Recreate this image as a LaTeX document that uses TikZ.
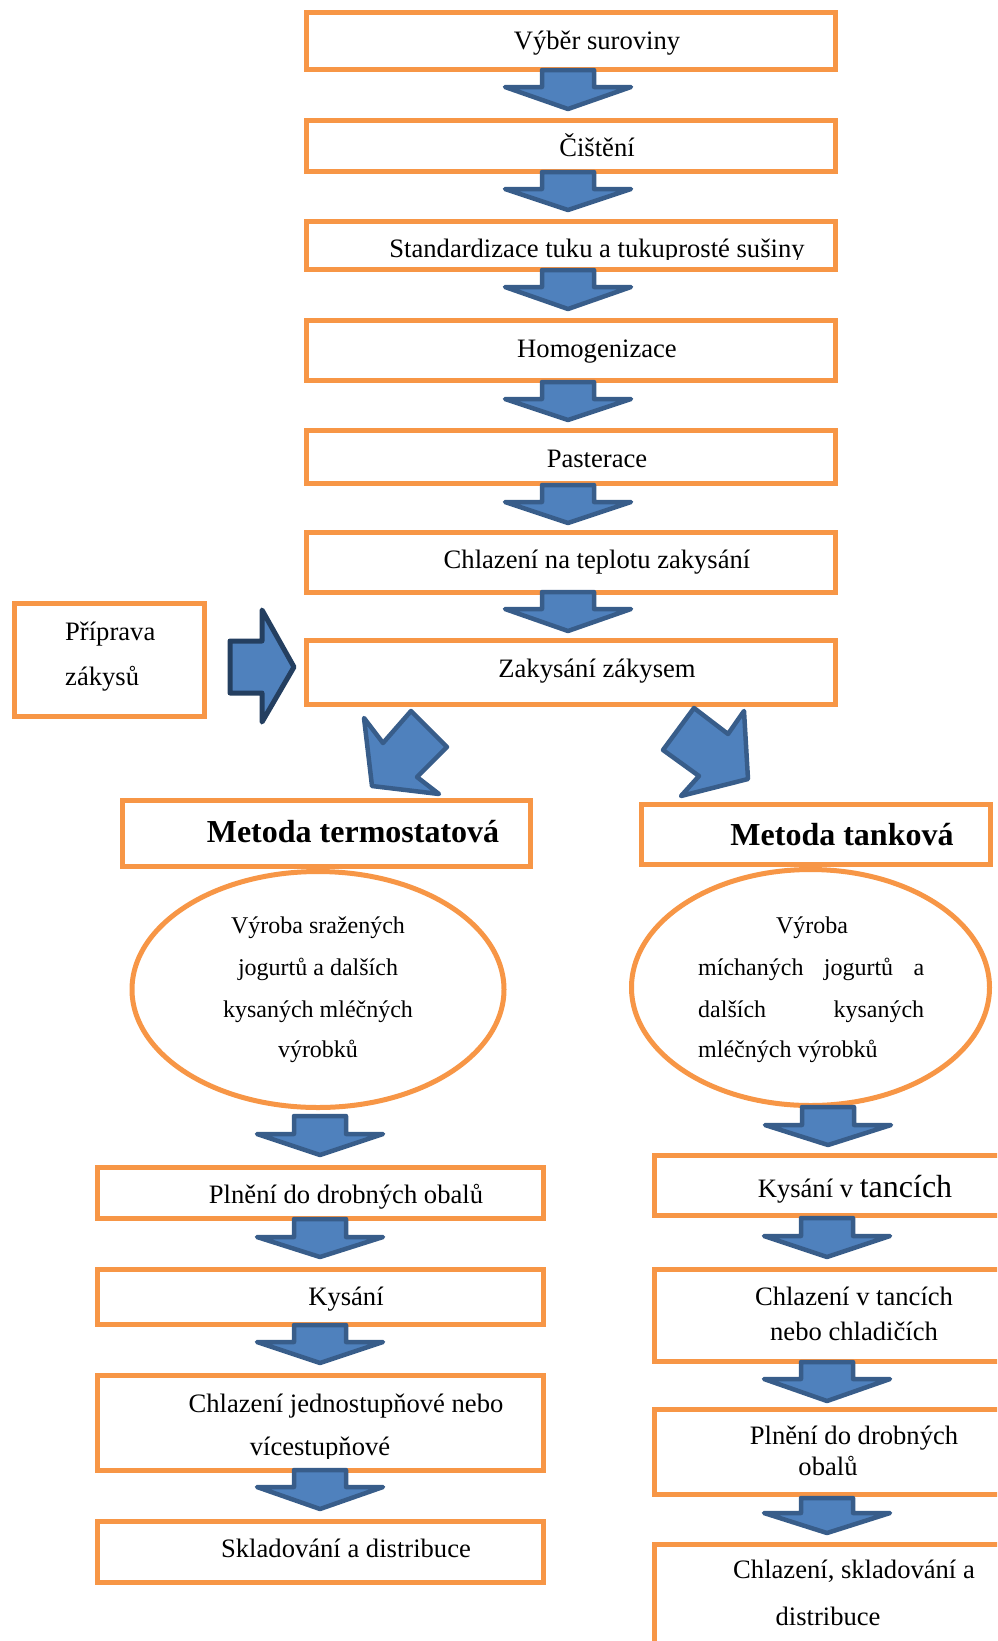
\documentclass[tikz,border=0pt]{standalone}
\usepackage{fontspec}
\setmainfont{Liberation Serif}
\definecolor{boxor}{HTML}{F79646}
\definecolor{afill}{HTML}{4F81BD}
\definecolor{aline}{HTML}{385D8A}
\definecolor{alinedark}{HTML}{243F60}
\tikzset{
  procbox/.style={draw=boxor, line width=5pt, fill=white, inner sep=0pt, rectangle},
  procell/.style={draw=boxor, line width=5pt, fill=white, inner sep=0pt, ellipse},
  barrow/.style={fill=afill, draw=aline, line width=4.5pt, line join=round},
  barrowdark/.style={fill=afill, draw=alinedark, line width=5pt, line join=round},
  lbl/.style={anchor=base, inner sep=0pt, font=\fontsize{26.6pt}{32pt}\selectfont},
  lblw/.style={anchor=base west, inner sep=0pt, font=\fontsize{26.6pt}{32pt}\selectfont},
  elbl/.style={anchor=base, inner sep=0pt, font=\fontsize{24pt}{29pt}\selectfont},
  elblw/.style={anchor=base west, inner sep=0pt, font=\fontsize{24pt}{29pt}\selectfont},
  blbl/.style={anchor=base, inner sep=0pt, font=\fontsize{32pt}{38pt}\selectfont\bfseries},
}
\usetikzlibrary{shapes.geometric}
\newcommand\dnarrow[4]{%
  \draw[barrow] ({#1-26},{#2+2}) -- ({#1+26},{#2+2}) -- ({#1+26},#3) -- ({#1+63},#3)
    -- (#1,{#4-2}) -- ({#1-63},#3) -- ({#1-26},#3) -- cycle;}
\begin{document}
\begin{tikzpicture}[x=1pt,y=-1pt]
\useasboundingbox (0,0) rectangle (997,1641);
\clip (0,0) rectangle (997,1641);

% main column boxes
\node[procbox, minimum width=529pt, minimum height=57pt] (b1) at (571,41) {};
\node[procbox, minimum width=529pt, minimum height=51pt] (b2) at (571,146) {};
\node[procbox, minimum width=529pt, minimum height=48pt] (b3) at (571,245.5) {};
\node[procbox, minimum width=529pt, minimum height=60pt] (b4) at (571,350.5) {};
\node[procbox, minimum width=529pt, minimum height=53pt] (b5) at (571,457) {};
\node[procbox, minimum width=529pt, minimum height=60pt] (b6) at (571,562.5) {};
\node[procbox, minimum width=529pt, minimum height=64pt] (b7) at (571,672.5) {};

% starter box
\node[procbox, minimum width=190pt, minimum height=113pt] (prep) at (109.5,660) {};

% method boxes
\node[procbox, minimum width=408pt, minimum height=66pt] (mt) at (326,833) {};
\node[procbox, minimum width=349pt, minimum height=60pt] (mk) at (816,834.5) {};

% ellipses
\node[procell, minimum width=372pt, minimum height=236pt] (el) at (318,989.5) {};
\node[procell, minimum width=358pt, minimum height=236pt] (er) at (810.5,987.5) {};

% left column
\node[procbox, minimum width=446pt, minimum height=51pt] (l1) at (320.5,1193) {};
\node[procbox, minimum width=446pt, minimum height=55pt] (l2) at (320.5,1297) {};
\node[procbox, minimum width=446pt, minimum height=95pt] (l3) at (320.5,1423) {};
\node[procbox, minimum width=446pt, minimum height=61pt] (l4) at (320.5,1552) {};

% right column
\node[procbox, minimum width=360pt, minimum height=60pt] (r1) at (834.5,1185.5) {};
\node[procbox, minimum width=360pt, minimum height=92pt] (r2) at (834.5,1315.5) {};
\node[procbox, minimum width=360pt, minimum height=85pt] (r3) at (834.5,1452) {};
\node[procbox, minimum width=360pt, minimum height=140pt] (r4) at (834.5,1614.5) {};

% block arrows, main column
\dnarrow{568}{68}{87}{111}
\dnarrow{568}{170}{189}{212}
\dnarrow{568}{268}{287}{311}
\dnarrow{568}{380}{399}{422}
\dnarrow{568}{483}{502}{525}
\dnarrow{568}{590}{609}{633}
% arrow from starter preparation
\draw[barrowdark] (230,641) -- (262,641) -- (262,610) -- (294,667) -- (262,722) -- (262,693) -- (230,693) -- cycle;
% diagonal arrows
\draw[barrow] (411,711) -- (447,747) -- (417,777) -- (439,794) -- (372,786) -- (364,718) -- (383,743) -- cycle;
\draw[barrow] (694,708) -- (728,734) -- (744,711) -- (748,779) -- (681,796) -- (699,776) -- (663,750) -- cycle;
% left column arrows
\dnarrow{320}{1114}{1134}{1157}
\dnarrow{320}{1217}{1237}{1259}
\dnarrow{320}{1323}{1342}{1365}
\dnarrow{320}{1468}{1487}{1511}
% right column arrows
\dnarrow{828}{1105}{1125}{1147}
\dnarrow{827}{1216}{1236}{1259}
\dnarrow{827}{1360}{1379}{1403}
\dnarrow{827}{1496}{1513}{1535}

% texts main column
\node[lbl] (t1) at (597,49) {Výběr suroviny};
\node[lbl] (t2) at (597,156) {Čištění};
\begin{scope}
\clip (300,200) rectangle (840,259);
\node[lbl] (t3) at (597,257) {Standardizace tuku a tukuprosté sušiny};
\end{scope}
\node[lbl] (t4) at (597,357) {Homogenizace};
\node[lbl] (t5) at (597,467) {Pasterace};
\node[lbl] (t6) at (597,568) {Chlazení na teplotu zakysání};
\node[lbl] (t7) at (597,677) {Zakysání zákysem};

\node[lblw] (tp1) at (65,640) {Příprava};
\node[lblw] (tp2) at (65,685) {zákysů};

\node[blbl] (tmt) at (353,842) {Metoda termostatová};
\node[blbl] (tmk) at (842,845) {Metoda tanková};

% ellipse texts
\node[elbl] (te1) at (318,933) {Výroba sražených};
\node[elbl] (te2) at (318,975) {jogurtů a dalších};
\node[elbl] (te3) at (318,1017) {kysaných mléčných};
\node[elbl] (te4) at (318,1057) {výrobků};

\node[elbl] (tf1) at (812,933) {Výroba};
\node[elblw] (tf2) at (698,975) {\hbox to 226pt{míchaných\hfill jogurtů\hfill a}};
\node[elblw] (tf3) at (698,1017) {\hbox to 226pt{dalších\hfill kysaných}};
\node[elblw] (tf4) at (698,1057) {mléčných výrobků};

% left column texts
\node[lbl] (tl1) at (346,1203) {Plnění do drobných obalů};
\node[lbl] (tl2) at (346,1305) {Kysání};
\node[lbl] (tl3a) at (346,1412) {Chlazení jednostupňové nebo};
\begin{scope}
\clip (90,1420) rectangle (550,1458);
\node[lbl] (tl3b) at (320,1455) {vícestupňové};
\end{scope}
\node[lbl] (tl4) at (346,1557) {Skladování a distribuce};

% right column texts
\node[lbl] (tr1) at (855,1197) {Kysání v {\fontsize{32pt}{38pt}\selectfont tancích}};
\node[lbl] (tr2a) at (854,1305) {Chlazení v tancích};
\node[lbl] (tr2b) at (854,1340) {nebo chladičích};
\node[lbl] (tr3a) at (854,1444) {Plnění do drobných};
\node[lbl] (tr3b) at (828,1475) {obalů};
\node[lbl] (tr4a) at (854,1578) {Chlazení, skladování a};
\node[lbl] (tr4b) at (828,1625) {distribuce};
\end{tikzpicture}
\end{document}
